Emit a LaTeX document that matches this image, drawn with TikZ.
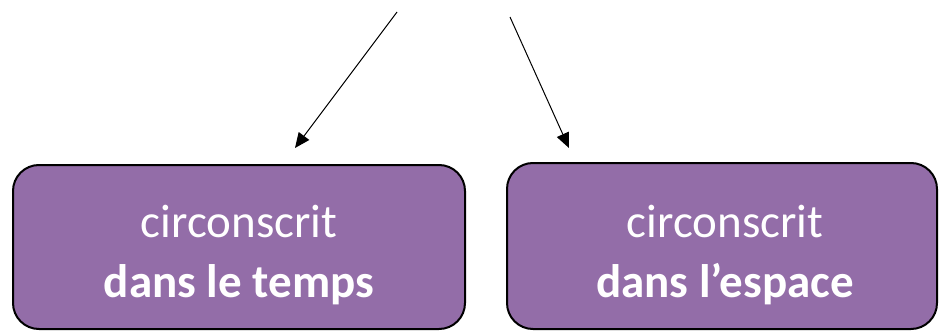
\documentclass[tikz,border=0pt]{standalone}
\usepackage{fontspec}
\setmainfont{Carlito}
\usetikzlibrary{arrows.meta}
\definecolor{boxpurple}{RGB}{147,109,168}
\tikzset{
  purplebox/.style={draw=black, line width=2pt, fill=boxpurple, rounded corners=26pt, inner sep=0pt},
  boxtext/.style={text=white, anchor=base, inner sep=0pt, font=\fontsize{47}{56}\selectfont},
  linkarrow/.style={draw=black, line width=1pt, -{Triangle[length=15pt,width=13pt]}}
}
\begin{document}
\begin{tikzpicture}[x=1pt,y=1pt]
\useasboundingbox (0,0) rectangle (940,330);
\node[purplebox, minimum width=452pt, minimum height=164pt] (left) at (239,83) {};
\node[purplebox, minimum width=430pt, minimum height=166pt] (right) at (722,84) {};
\node[boxtext] (l1) at (239,93) {circonscrit};
\node[boxtext] (l2) at (239,33) {\bfseries dans le temps};
\node[boxtext] (r1) at (725,93) {circonscrit};
\node[boxtext] (r2) at (725,33) {\bfseries dans l’espace};
\coordinate (s1) at (397,318);
\coordinate (t1) at (295,182);
\coordinate (s2) at (510,313);
\coordinate (t2) at (569,182);
\draw[linkarrow] (s1) -- (t1);
\draw[linkarrow] (s2) -- (t2);
\end{tikzpicture}
\end{document}
